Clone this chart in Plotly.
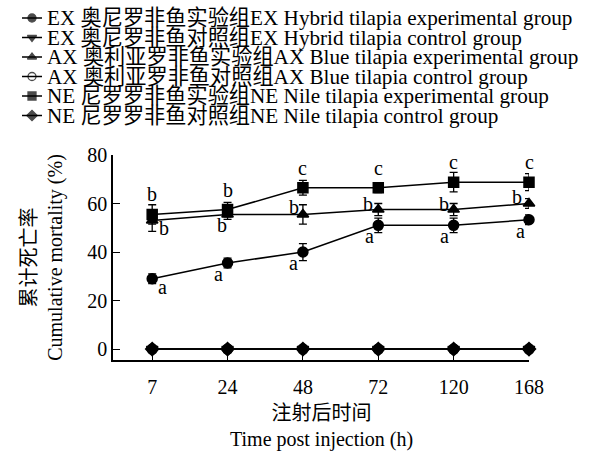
import plotly.graph_objects as go

times = ["7", "24", "48", "72", "120", "168"]

ex_exp = [29.0, 35.5, 40.0, 51.0, 51.0, 53.3]
ex_exp_err = [2.0, 2.0, 3.5, 3.0, 3.0, 2.0]
ax_exp = [53.0, 55.5, 55.5, 57.5, 57.5, 60.0]
ax_exp_err = [4.5, 2.0, 4.0, 2.5, 2.5, 2.0]
ne_exp = [55.5, 57.5, 66.5, 66.5, 68.8, 68.8]
ne_exp_err = [4.0, 3.0, 3.0, 2.0, 4.0, 3.5]
ex_ctl = [0, 0, 0, 0, 0, 0]
ax_ctl = [0, 0, 0, 0, 0, 0]
ne_ctl = [0, 0, 0, 0, 0, 0]

ex_letters = ["a", "a", "a", "a", "a", "a"]
ax_letters = ["b", "b", "b", "b", "b", "b"]
ne_letters = ["b", "b", "c", "c", "c", "c"]

names = [
    "EX 奥尼罗非鱼实验组EX Hybrid tilapia experimental group",
    "EX 奥尼罗非鱼对照组EX Hybrid tilapia control group",
    "AX 奥利亚罗非鱼实验组AX Blue tilapia experimental group",
    "AX 奥利亚罗非鱼对照组AX Blue tilapia control group",
    "NE 尼罗罗非鱼实验组NE Nile tilapia experimental group",
    "NE 尼罗罗非鱼对照组NE Nile tilapia control group",
]
symbols = ["circle", "triangle-down", "triangle-up", "circle-open", "square", "diamond"]

x_title = "注射后时间<br>Time post injection (h)"
y_title = "累计死亡率<br>Cumulative mortality (%)"

FONT = "Liberation Serif, Times New Roman, Noto Sans CJK SC"
W, H = 593, 451

fig = go.Figure()

series = [(ex_exp, ex_exp_err), (ex_ctl, None), (ax_exp, ax_exp_err),
          (ax_ctl, None), (ne_exp, ne_exp_err), (ne_ctl, None)]

for (y, err), name, sym in zip(series, names, symbols):
    kw = {}
    if err is not None:
        kw["error_y"] = dict(type="data", array=err, color="black",
                             thickness=1.3, width=4)
    fig.add_trace(go.Scatter(
        x=times, y=y, name=name, mode="lines+markers",
        line=dict(color="black", width=1.5),
        marker=dict(symbol=sym, size=10, color="black",
                    line=dict(color="black", width=1.5)),
        cliponaxis=False, showlegend=False, **kw,
    ))

# significance letters (x given as category index)
ex_off = [(10, -8)] + [(-9, -11)] * 5
ax_off = [(12, -8), (-6, -11), (-9, 7), (-10, 6), (-10, 6), (-12, 7)]
ne_off = [(0, 20)] * 6
for ys, letters, offs in [(ex_exp, ex_letters, ex_off),
                          (ax_exp, ax_letters, ax_off),
                          (ne_exp, ne_letters, ne_off)]:
    for i, (yv, lt, (dx, dy)) in enumerate(zip(ys, letters, offs)):
        fig.add_annotation(x=i, y=yv, xref="x", yref="y", text=lt,
                           showarrow=False, xshift=dx, yshift=dy,
                           font=dict(family=FONT, size=20, color="black"))

# manual compact legend on a pixel-unit overlay axis
row_y0, row_dy = 18, 19.5
for i, (name, sym) in enumerate(zip(names, symbols)):
    ry = row_y0 + i * row_dy
    fig.add_trace(go.Scatter(
        x=[22, 32, 42], y=[ry, ry, ry], xaxis="x2", yaxis="y2",
        mode="lines+markers", showlegend=False, hoverinfo="skip",
        line=dict(color="black", width=1.5),
        marker=dict(symbol=sym, size=[0, 8, 0], color="black",
                    line=dict(color="black", width=1.3)),
        cliponaxis=False,
    ))
    fig.add_annotation(x=45, y=ry, xref="x2", yref="y2", text=name,
                       showarrow=False, xanchor="left", yanchor="middle",
                       font=dict(family=FONT, size=21.2, color="black"))

# x-axis title (two lines) placed below the tick labels
fig.add_annotation(x=321, y=426, xref="x2", yref="y2", text=x_title,
                   showarrow=False, xanchor="center", yanchor="middle",
                   font=dict(family=FONT, size=20, color="black"))

fig.update_layout(
    width=W, height=H,
    margin=dict(l=0, r=0, t=0, b=0, autoexpand=False),
    paper_bgcolor="white", plot_bgcolor="rgba(0,0,0,0)",
    font=dict(family=FONT, size=20, color="black"),
    showlegend=False,
    xaxis=dict(
        domain=[113 / W, 529 / W], anchor="y", automargin=False,
        type="category", range=[-0.52, 5.0],
        showline=True, linecolor="black", linewidth=1.5,
        ticks="inside", ticklen=7, tickcolor="black", tickwidth=1.3,
        showgrid=False, zeroline=False, ticklabelstandoff=8,
        tickfont=dict(family=FONT, size=20),
    ),
    yaxis=dict(
        domain=[(H - 360) / H, (H - 155) / H], anchor="x", automargin=False,
        range=[-4.5, 80], tickvals=[0, 20, 40, 60, 80],
        showline=True, linecolor="black", linewidth=1.5,
        ticks="inside", ticklen=7, tickcolor="black", tickwidth=1.3,
        showgrid=False, zeroline=False,
        tickfont=dict(family=FONT, size=20),
        title=dict(text=y_title,
                   font=dict(family=FONT, size=20), standoff=19),
    ),
    xaxis2=dict(domain=[0, 1], anchor="y2", range=[0, W], visible=False,
                fixedrange=True, automargin=False),
    yaxis2=dict(domain=[0, 1], anchor="x2", range=[H, 0], visible=False,
                fixedrange=True, automargin=False),
)

fig.write_html("out.html", config={"displayModeBar": False},
               post_script="document.body.style.margin='0';")
